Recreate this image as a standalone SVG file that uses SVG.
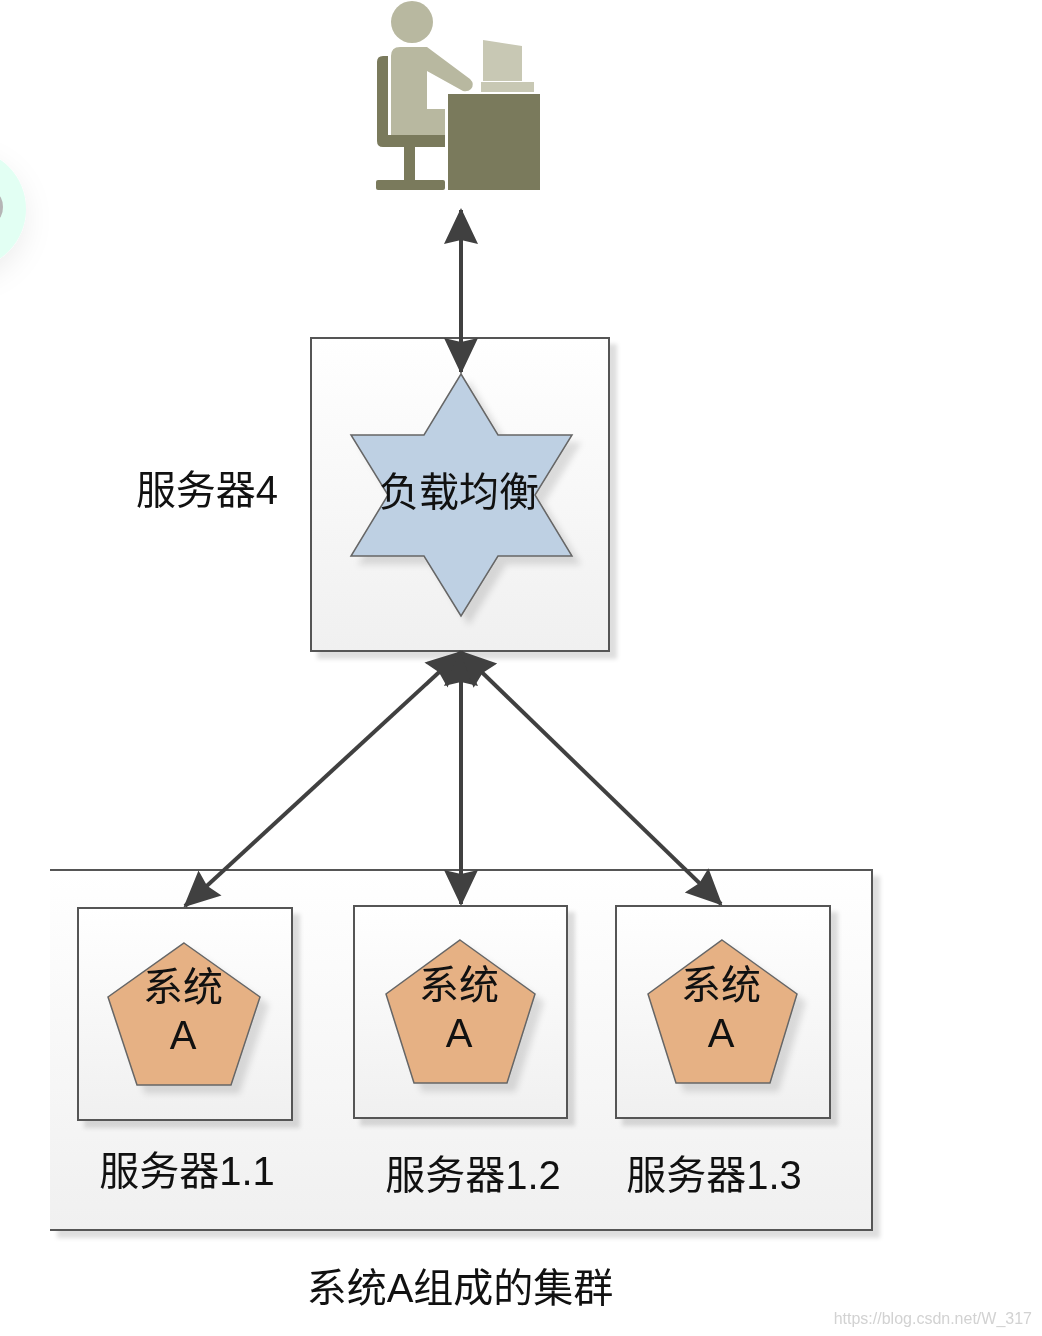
<svg xmlns="http://www.w3.org/2000/svg" width="1042" height="1336" viewBox="0 0 1042 1336">
<style>
.box{fill:url(#g);stroke:#555;stroke-width:2;filter:url(#s)}
.t{font-family:"Liberation Sans","Noto Sans CJK SC",sans-serif;fill:#111;text-anchor:middle}
.l{font-size:40px}
.n{font-size:40px}
.c{stroke:#404040;stroke-width:4;fill:none;marker-start:url(#a);marker-end:url(#a)}
.d{fill:#7a7a5c}
.p{fill:#b8b8a0}
.q{fill:#c8c8b4}
.pent{fill:#e6b184;stroke:#666;stroke-width:1.5;filter:url(#s2)}
</style>
<defs>
<linearGradient id="g" x1="0" y1="0" x2="0" y2="1"><stop offset="0" stop-color="#fff"/><stop offset="1" stop-color="#f0f0f0"/></linearGradient>
<filter id="s" x="-5%" y="-5%" width="112%" height="112%"><feDropShadow dx="7" dy="7" stdDeviation="2" flood-color="#000" flood-opacity=".13"/></filter>
<filter id="s2" x="-10%" y="-10%" width="125%" height="125%"><feDropShadow dx="8" dy="8" stdDeviation="3" flood-color="#000" flood-opacity=".12"/></filter>
<filter id="halo" x="-30%" y="-30%" width="160%" height="160%"><feDropShadow dx="0" dy="10" stdDeviation="14" flood-color="#000" flood-opacity=".07"/></filter>
<filter id="soft" x="0" y="0" width="100%" height="100%" filterUnits="userSpaceOnUse" primitiveUnits="userSpaceOnUse"><feGaussianBlur stdDeviation="0.7"/></filter>
<marker id="a" viewBox="0 0 36 36" refX="34" refY="18" markerWidth="36" markerHeight="36" markerUnits="userSpaceOnUse" orient="auto-start-reverse"><path d="M0 1 L36 18 L0 35 L4 18 Z" fill="#404040"/></marker>
</defs>
<rect width="1042" height="1336" fill="#fff"/>
<g id="diagram" style="filter:blur(0.7px)">
<g id="badge"><circle cx="-34" cy="209" r="60" fill="#e2fff3" filter="url(#halo)"/><ellipse cx="-4" cy="207" rx="7" ry="13" fill="#b5b5b5"/></g>
<g id="user">
<circle class="p" cx="412" cy="22" r="21"/>
<path class="d" d="M377 62 Q377 56 383 56 L388 56 L388 135 L445 135 L445 147 L383 147 Q377 147 377 141 Z"/>
<path class="p" d="M391 56 Q391 47 400 47 L427 47 L470 79 Q475 84 471 89 Q468 92 463 91 L427 71 L427 109 L445 109 L445 135 L391 135 Z"/>
<rect class="d" x="404" y="147" width="11" height="33"/>
<rect class="d" x="376" y="180" width="69" height="10" rx="2"/>
<rect class="d" x="448" y="94" width="92" height="96"/>
<path class="q" d="M483 40 L522 46 L522 81 L483 81 Z"/>
<rect class="q" x="481" y="82" width="53" height="10"/>
</g>
<g id="cluster">
<path d="M50 870 H872 V1230 H50" fill="url(#g)" stroke="#555" stroke-width="2" filter="url(#s)"/>
<text class="t l" x="460" y="1302">系统A组成的集群</text>
</g>
<g id="lb">
<rect class="box" x="311" y="338" width="298" height="313"/>
<path d="M461 374 L498 435 L572 435 L535 495 L572 556 L498 556 L461 616 L424 556 L351 556 L388 495 L351 435 L424 435 Z" fill="#bed0e3" stroke="#666" stroke-width="1.5" filter="url(#s2)"/>
<text class="t l" x="459" y="506">负载均衡</text>
<text class="t l" x="207" y="504">服务器4</text>
</g>
<g id="s1">
<rect class="box" x="78" y="908" width="214" height="212"/>
<path class="pent" d="M184 943 L260 997 L231 1085 L137 1085 L108 997 Z"/>
<text class="t n" x="183" y="1001">系统</text><text class="t n" x="183" y="1049">A</text>
<text class="t l" x="187" y="1185">服务器1.1</text>
</g>
<g id="s2n">
<rect class="box" x="354" y="906" width="213" height="212"/>
<path class="pent" d="M460 940 L535 994 L507 1083 L414 1083 L386 994 Z"/>
<text class="t n" x="459" y="999">系统</text><text class="t n" x="459" y="1047">A</text>
<text class="t l" x="473" y="1189">服务器1.2</text>
</g>
<g id="s3">
<rect class="box" x="616" y="906" width="214" height="212"/>
<path class="pent" d="M722 940 L797 994 L770 1083 L676 1083 L648 994 Z"/>
<text class="t n" x="721" y="999">系统</text><text class="t n" x="721" y="1047">A</text>
<text class="t l" x="714" y="1189">服务器1.3</text>
</g>
<g id="connectors">
<path class="c" d="M461 210 V372"/>
<path class="c" d="M461 652 L185 906"/>
<path class="c" d="M461 652 V904"/>
<path class="c" d="M461 652 L721 904"/>
</g>
<text id="watermark" x="1032" y="1324" text-anchor="end" font-family="Liberation Sans, sans-serif" font-size="16" fill="#d2d2d2">https://blog.csdn.net/W_317</text>
</g>
</svg>
